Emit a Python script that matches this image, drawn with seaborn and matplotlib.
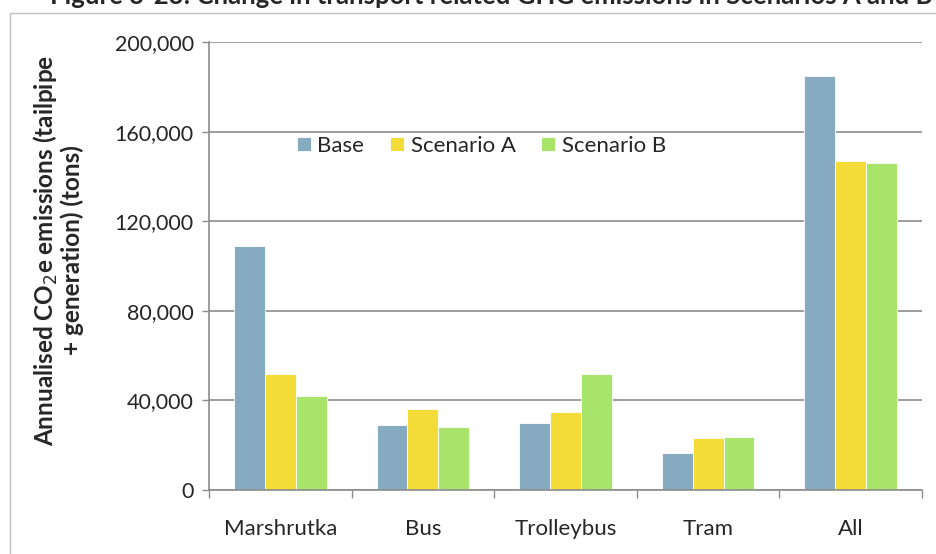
import matplotlib
matplotlib.use("Agg")
from matplotlib import pyplot as plt
from matplotlib.patches import Rectangle
from matplotlib.ticker import FuncFormatter, FixedLocator
import pandas as pd
import seaborn as sns

categories = ["Marshrutka", "Bus", "Trolleybus", "Tram", "All"]
series = ["Base", "Scenario A", "Scenario B"]
base = [108800, 28900, 30000, 16600, 184900]
scenario_a = [51700, 36300, 34900, 23000, 146800]
scenario_b = [41900, 28000, 51700, 23600, 146000]
colors = ["#86aabf", "#f3dc38", "#a7e469"]

rows = []
for name, vals in zip(series, [base, scenario_a, scenario_b]):
    for cat, v in zip(categories, vals):
        rows.append({"Mode": cat, "Scenario": name, "Emissions": v})
df = pd.DataFrame(rows)

sns.set_style("white")
plt.rcParams["font.family"] = ["Lato", "DejaVu Sans"]

fig = plt.figure(figsize=(9.37, 5.54), dpi=100)
ax = fig.add_axes([209 / 937, 1 - 490 / 554, (922 - 209) / 937, (490 - 42) / 554])

sns.barplot(data=df, x="Mode", y="Emissions", hue="Scenario", palette=colors,
            saturation=1, width=0.65, edgecolor="white", linewidth=0.6, ax=ax)

ax.set_ylim(0, 200000)
ax.set_xlim(-0.5, 4.5)
ax.set_yticks(range(0, 200001, 40000))
ax.yaxis.set_major_formatter(FuncFormatter(lambda v, p: f"{int(v):,}"))
ax.yaxis.grid(True, color="#8c8c8c", linewidth=1.2)
ax.set_axisbelow(True)

for s in ["top", "right"]:
    ax.spines[s].set_visible(False)
for s in ["left", "bottom"]:
    ax.spines[s].set_color("#8c8c8c")
    ax.spines[s].set_linewidth(1.2)

ax.tick_params(axis="y", length=5, color="#8c8c8c", width=1, labelsize=15.5, pad=6, left=True)
ax.tick_params(axis="x", which="major", length=0, labelsize=16, pad=21)
ax.xaxis.set_minor_locator(FixedLocator([-0.5, 0.5, 1.5, 2.5, 3.5, 4.5]))
ax.tick_params(axis="x", which="minor", length=6, color="#8c8c8c", width=1, bottom=True)

ax.set_xlabel("")
ax.set_ylabel("Annualised CO$_2$e emissions (tailpipe\n+ generation) (tons)",
              fontsize=17.5, fontweight="bold", linespacing=1.05)
ax.yaxis.set_label_coords(-0.175, 0.535)

ax.legend(loc="center", bbox_to_anchor=(0.382, 0.768), ncol=3, frameon=False,
          fontsize=16, handlelength=0.63, handleheight=0.63, handletextpad=0.3,
          columnspacing=1.15)

fig.patches.append(Rectangle((10 / 937, -0.1), 1.0, 1 - 13 / 554 + 0.1,
                             transform=fig.transFigure, fill=False,
                             edgecolor="#bfbfbf", linewidth=1))
fig.text(933 / 937, 1 - 4 / 554, "Figure 3-23: Change in transport related GHG emissions in Scenarios A and B",
         ha="right", va="baseline", fontsize=18.5, fontweight="bold")

fig.savefig("out.png", dpi=100)
